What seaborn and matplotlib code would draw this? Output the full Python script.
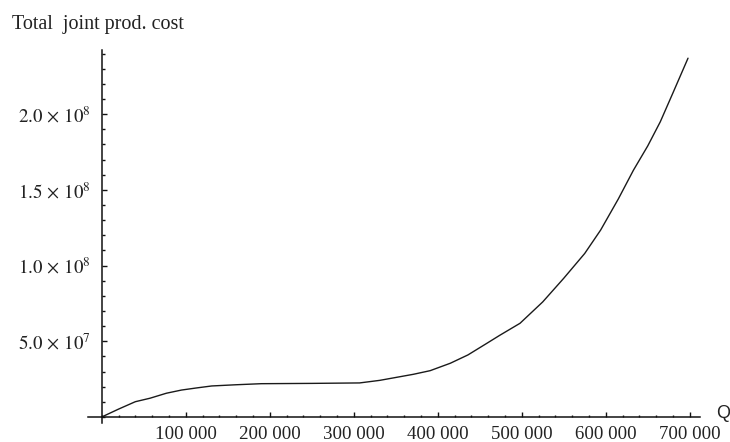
import matplotlib
matplotlib.use("Agg")
import matplotlib.pyplot as plt
from matplotlib.ticker import MultipleLocator, FixedLocator, FixedFormatter
import seaborn as sns
import pandas as pd

# Output quantity Q and total joint production cost
quantity = [0, 20000, 40000, 57500, 77000, 95000, 113000, 131000, 160000,
            190000, 250000, 307000, 331000, 349000, 371000, 391000, 415000,
            436000, 458000, 474000, 498000, 525000, 550000, 575000, 594000,
            615000, 633000, 650000, 665000, 680000, 698000]
total_cost = [0.0, 0.52e7, 1.01e7, 1.24e7, 1.57e7, 1.78e7, 1.92e7, 2.05e7,
              2.13e7, 2.2e7, 2.22e7, 2.25e7, 2.42e7, 2.6e7, 2.82e7, 3.06e7,
              3.55e7, 4.1e7, 4.85e7, 5.4e7, 6.19e7, 7.6e7, 9.16e7, 1.08e8,
              1.235e8, 1.44e8, 1.63e8, 1.79e8, 1.95e8, 2.14e8, 2.37e8]

x_ticks = [100000, 200000, 300000, 400000, 500000, 600000, 700000]
x_tick_labels = ["100 000", "200 000", "300 000", "400 000", "500 000",
                 "600 000", "700 000"]
y_ticks = [5.0e7, 1.0e8, 1.5e8, 2.0e8]
y_tick_labels = [r"$5.0\,\times\,10^{7}$", r"$1.0\,\times\,10^{8}$",
                 r"$1.5\,\times\,10^{8}$", r"$2.0\,\times\,10^{8}$"]

sns.set_theme(style="white")
plt.rcParams["font.family"] = ["Liberation Serif", "DejaVu Serif"]
plt.rcParams["mathtext.fontset"] = "stix"

df = pd.DataFrame({"Q": quantity, "cost": total_cost})

fig = plt.figure(figsize=(7.30, 4.42), dpi=100)
ax = fig.add_axes([0.0, 0.0, 1.0, 1.0])

# Axes region in pixels: origin at (101.7, 417), right end at x=700, top at y=50
W, H = 730, 442
px_x = 588 / 700000.0      # pixels per unit Q
px_y = 75.7 / 5.0e7        # pixels per unit cost
x0, y0 = 88.0, 423.0
x1, y1 = 700.0, 50.0
ax.set_position([x0 / W, (H - y0) / H, (x1 - x0) / W, (y0 - y1) / H])
ax.set_xlim(-(101.7 - x0) / px_x, (x1 - 101.7) / px_x)
ax.set_ylim(-(y0 - 417.0) / px_y, (417.0 - y1) / px_y)

sns.lineplot(data=df, x="Q", y="cost", ax=ax, color="#1a1a1a", linewidth=1.0,
             estimator=None, sort=False)

for side in ("top", "right"):
    ax.spines[side].set_visible(False)
for side in ("left", "bottom"):
    ax.spines[side].set_position(("data", 0))
    ax.spines[side].set_color("#111111")
    ax.spines[side].set_linewidth(1.1)

ax.xaxis.set_major_locator(FixedLocator(x_ticks))
ax.xaxis.set_major_formatter(FixedFormatter(x_tick_labels))
ax.yaxis.set_major_locator(FixedLocator(y_ticks))
ax.yaxis.set_major_formatter(FixedFormatter(y_tick_labels))
ax.xaxis.set_minor_locator(MultipleLocator(20000))
ax.yaxis.set_minor_locator(MultipleLocator(1.0e7))

ax.tick_params(which="both", direction="in", color="#111111", width=1.0,
               bottom=True, left=True, labelsize=13.6, labelcolor="#222222")
ax.tick_params(which="major", length=3.8)
ax.tick_params(which="minor", length=1.8)
ax.tick_params(axis="x", which="major", pad=6.5)
ax.tick_params(axis="y", which="major", pad=8)

ax.set_xlabel("")
ax.set_ylabel("")
ax.grid(False)

fig.text(12 / W, (H - 25) / H, "Total  joint prod. cost", fontsize=14.5,
         color="#222222", ha="left", va="center")
fig.text(716 / W, (H - 414) / H, "Q", fontsize=13, color="#222222",
         ha="left", va="center", family=["Liberation Sans", "DejaVu Sans"])

fig.savefig("out.png", dpi=100, facecolor="white")
